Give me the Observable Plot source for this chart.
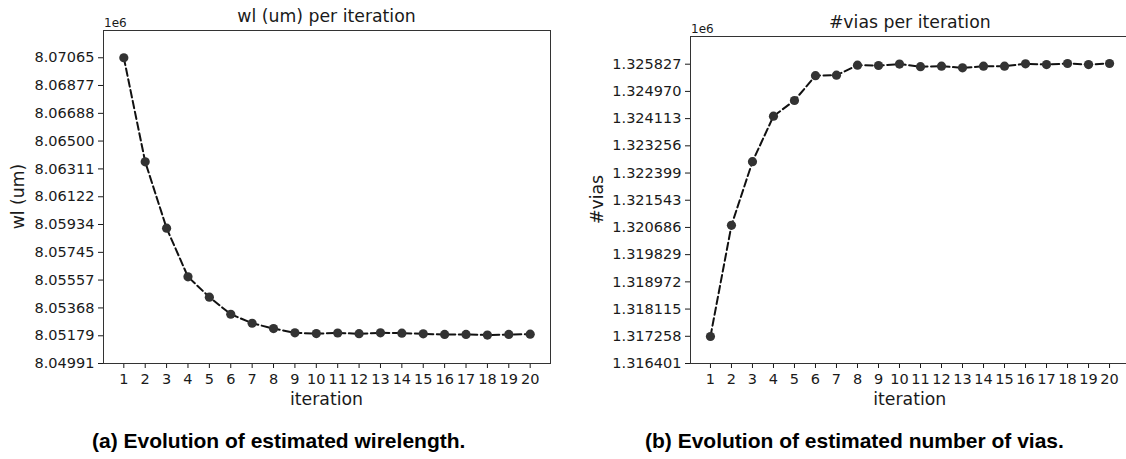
<!DOCTYPE html>
<html>
<head>
<meta charset="utf-8">
<script src="https://cdn.jsdelivr.net/npm/d3@7"></script>
<script src="https://cdn.jsdelivr.net/npm/@observablehq/plot@0.6"></script>
<style>
html, body { margin: 0; padding: 0; background: #fff; overflow: hidden; }
#root { position: relative; width: 1126px; height: 459px; overflow: hidden; background: #fff; }
#root > svg, #root > figure { position: absolute; margin: 0; }
</style>
</head>
<body>
<div id="root"></div>
<script>
// ---- data (values in units of 1e6) ----
const iterations = [1, 2, 3, 4, 5, 6, 7, 8, 9, 10, 11, 12, 13, 14, 15, 16, 17, 18, 19, 20];
const wirelength = [8.07065, 8.06359, 8.05909, 8.05579, 8.05441, 8.05325, 8.05264, 8.05228, 8.05199, 8.05194,
                    8.05198, 8.05193, 8.05199, 8.05197, 8.05192, 8.05188, 8.05188, 8.05184, 8.05188, 8.05190];
const vias = [1.317252, 1.320752, 1.322756, 1.324190, 1.324684, 1.325465, 1.325480, 1.325795, 1.325785, 1.325830,
              1.325750, 1.325763, 1.325712, 1.325763, 1.325763, 1.325838, 1.325816, 1.325848, 1.325816, 1.325848];
const wlTickLabels = ["8.04991", "8.05179", "8.05368", "8.05557", "8.05745", "8.05934",
                      "8.06122", "8.06311", "8.06500", "8.06688", "8.06877", "8.07065"];
const viasTickLabels = ["1.316401", "1.317258", "1.318115", "1.318972", "1.319829", "1.320686",
                        "1.321543", "1.322399", "1.323256", "1.324113", "1.324970", "1.325827"];
const xTickLabels = iterations.map(String);

const wlTitle = "wl (um) per iteration";
const viasTitle = "#vias per iteration";
const wlYLabel = "wl (um)";
const viasYLabel = "#vias";
const xLabel = "iteration";
const offsetLabel = "1e6";
const captionA = "(a) Evolution of estimated wirelength.";
const captionB = "(b) Evolution of estimated number of vias.";

const root = document.getElementById("root");

function panel({values, tickLabels, yDomain, left, width, marginLeft, marginRight, marginTop, marginBottom}) {
  const data = iterations.map((it, i) => ({iteration: it, value: values[i]}));
  const tickVals = tickLabels.map(Number);
  const labelMap = new Map(tickVals.map((v, i) => [v, tickLabels[i]]));
  const xMap = new Map(iterations.map((v, i) => [v, xTickLabels[i]]));
  const chart = Plot.plot({
    width, height: 410,
    marginLeft, marginRight, marginTop, marginBottom,
    x: {type: "linear", domain: [0.05, 20.95]},
    y: {type: "linear", domain: yDomain},
    style: {fontFamily: "'DejaVu Sans', sans-serif", fontSize: "14.5px", color: "#1a1a1a", background: "transparent", overflow: "visible"},
    marks: [
      Plot.axisX({ticks: iterations, tickFormat: d => xMap.get(d), tickSize: 5, tickPadding: 5, label: null}),
      Plot.axisY({ticks: tickVals, tickFormat: d => labelMap.get(d), tickSize: 5, tickPadding: 4, label: null}),
      Plot.line(data, {x: "iteration", y: "value", stroke: "#111", strokeWidth: 2, strokeDasharray: "7.5,3.5"}),
      Plot.dot(data, {x: "iteration", y: "value", r: 4.6, fill: "#333", stroke: null}),
      Plot.frame({stroke: "#333", strokeWidth: 1})
    ]
  });
  chart.style.left = left + "px";
  chart.style.top = "0px";
  root.appendChild(chart);
}

panel({values: wirelength, tickLabels: wlTickLabels, yDomain: [8.04991, 8.0725],
       left: 0, width: 560, marginLeft: 103, marginRight: 10, marginTop: 30, marginBottom: 47});
panel({values: vias, tickLabels: viasTickLabels, yDomain: [1.316401, 1.326699],
       left: 560, width: 575, marginLeft: 130, marginRight: 6, marginTop: 36, marginBottom: 47});

// ---- text overlay ----
const ns = "http://www.w3.org/2000/svg";
const ov = document.createElementNS(ns, "svg");
ov.setAttribute("width", 1126);
ov.setAttribute("height", 459);
ov.style.left = "0px"; ov.style.top = "0px";
ov.style.pointerEvents = "none";
root.appendChild(ov);
function txt(s, x, y, opts = {}) {
  const t = document.createElementNS(ns, "text");
  t.textContent = s;
  t.setAttribute("x", opts.rotate ? 0 : x);
  t.setAttribute("y", opts.rotate ? 0 : y);
  if (opts.rotate) t.setAttribute("transform", `translate(${x},${y}) rotate(-90)`);
  t.setAttribute("text-anchor", opts.anchor || "middle");
  t.setAttribute("font-family", opts.family || "'DejaVu Sans', sans-serif");
  t.setAttribute("font-size", opts.size || 17.3);
  if (opts.weight) t.setAttribute("font-weight", opts.weight);
  t.setAttribute("fill", opts.fill || "#1a1a1a");
  ov.appendChild(t);
}
txt(wlTitle, 326.5, 22);
txt(viasTitle, 909.8, 28);
txt(offsetLabel, 104, 26.5, {anchor: "start", size: 12});
txt(offsetLabel, 691, 32.5, {anchor: "start", size: 12});
txt(wlYLabel, 24, 196.5, {rotate: true});
txt(viasYLabel, 603, 199.5, {rotate: true});
txt(xLabel, 326.5, 404.5);
txt(xLabel, 909.8, 404.5);
txt(captionA, 92, 448, {anchor: "start", family: "'Liberation Sans', Arial, sans-serif", size: 21, weight: "bold", fill: "#000"});
txt(captionB, 645, 448, {anchor: "start", family: "'Liberation Sans', Arial, sans-serif", size: 21, weight: "bold", fill: "#000"});
</script>
</body>
</html>
